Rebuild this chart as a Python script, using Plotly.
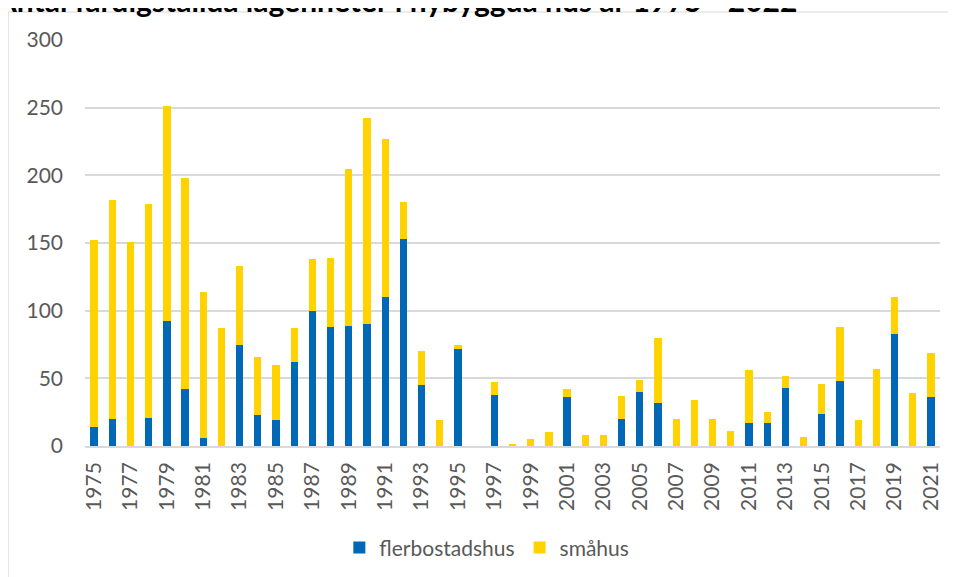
import plotly.graph_objects as go

# färdigställda lägenheter per år
years = [str(y) for y in range(1975, 2022)]
flerbostadshus = [14, 20, 0, 21, 92, 42, 6, 0, 75, 23, 19, 62, 100, 88, 89, 90, 110, 153, 45, 0,
                  72, 0, 38, 0, 0, 0, 36, 0, 0, 20, 40, 32, 0, 0, 0, 0, 17, 17, 43, 0,
                  24, 48, 0, 0, 83, 0, 36]
smahus = [138, 162, 151, 158, 159, 156, 108, 87, 58, 43, 41, 25, 38, 51, 116, 152, 117, 27, 25, 19,
          3, 0, 9, 1, 5, 10, 6, 8, 8, 17, 9, 48, 20, 34, 20, 11, 39, 8, 9, 7,
          22, 40, 19, 57, 27, 39, 33]
tick_years = years[::2]

blue = '#0068B4'
yellow = '#FFD200'
grey_text = '#595959'
font_family = 'Lato, Open Sans, sans-serif'

fig = go.Figure()
fig.add_trace(go.Bar(x=years, y=flerbostadshus, name='flerbostadshus',
                     marker=dict(color=blue, line=dict(width=0))))
fig.add_trace(go.Bar(x=years, y=smahus, name='småhus',
                     marker=dict(color=yellow, line=dict(width=0))))

# sidan har 8 px marginal, så allt flyttas 8 px upp/vänster
fig.update_layout(
    width=956, height=577,
    barmode='stack', bargap=0.6,
    plot_bgcolor='white', paper_bgcolor='white',
    margin=dict(l=77, r=24, t=32, b=139),
    font=dict(family=font_family, size=21, color=grey_text),
    showlegend=True,
    legend=dict(orientation='h', x=0.470, xanchor='center', y=-0.251, yanchor='middle',
                font=dict(size=21, color=grey_text), traceorder='normal'),
)

fig.update_xaxes(type='category', tickmode='array', tickvals=tick_years, ticktext=tick_years,
                 tickangle=-90, showgrid=False, showline=True, linecolor='#D9D9D9', linewidth=1.5,
                 ticks='', ticklabelstandoff=6, automargin=False)
fig.update_yaxes(range=[0, 300], dtick=50, showgrid=True, gridcolor='#D9D9D9', gridwidth=1.5,
                 zeroline=False, showline=False, ticks='', ticklabelstandoff=21, automargin=False)

# ram runt diagrammet
fig.add_shape(type='rect', xref='paper', yref='paper', x0=-0.09, x1=1.05, y0=-0.4, y1=1.069,
              line=dict(color='#D9D9D9', width=1.2), fillcolor='rgba(0,0,0,0)', layer='below')

# titeln sticker ut ovanför bilden
fig.add_annotation(text='<b>Antal färdigställda lägenheter i nybyggda hus år 1975 - 2022</b>',
                   xref='paper', yref='paper', x=-0.108, y=1.049, xanchor='left', yanchor='bottom',
                   showarrow=False, font=dict(family=font_family, size=30, color='black'))

fig.write_html("out.html")
